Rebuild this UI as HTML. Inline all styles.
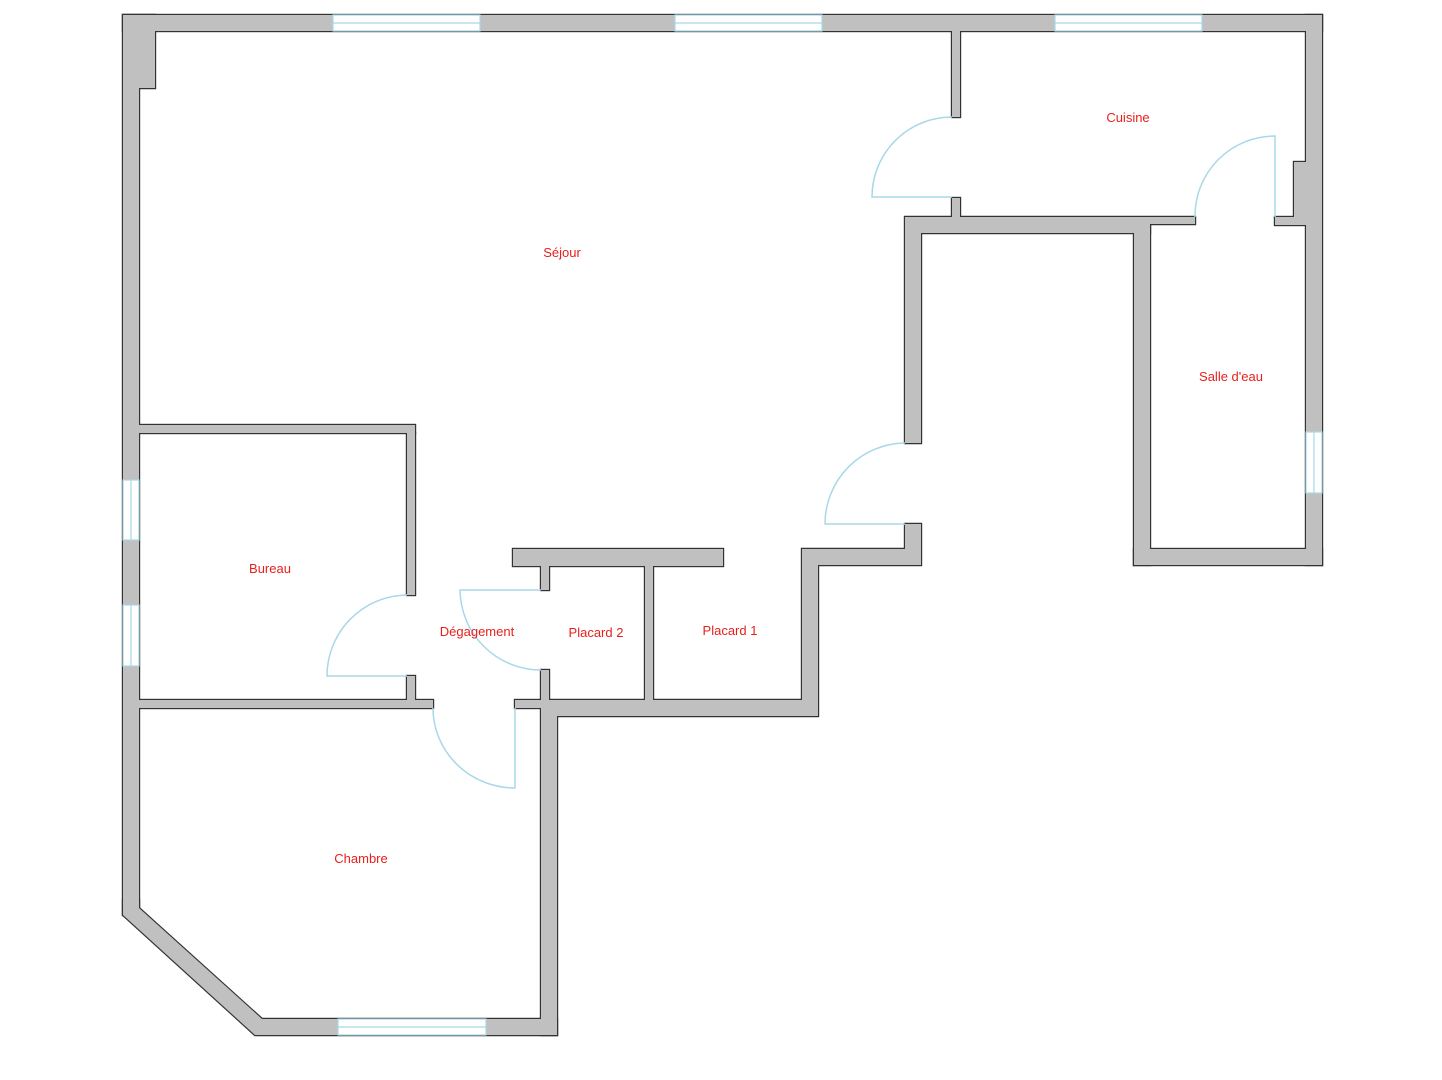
<!DOCTYPE html>
<html><head><meta charset="utf-8"><style>
html,body{margin:0;padding:0;background:#fff;}
svg{display:block}
text{font-family:"Liberation Sans",Arial,sans-serif;font-size:13px;fill:#e8201c;text-anchor:middle}
</style></head><body>
<svg width="1442" height="1080" viewBox="0 0 1442 1080" xmlns="http://www.w3.org/2000/svg">
<defs>
<g id="walls">
<rect x="123" y="15" width="1199" height="16"/>
<polygon points="123,15 155,15 155,88 139,88 139,915 123,915"/>
<polygon points="123,900 139,900 139,908 262,1019 557,1019 557,1035 255,1035 123,915"/>
<rect x="1306" y="15" width="16" height="550"/>
<rect x="1294" y="162" width="12" height="55"/>
<rect x="1275" y="217" width="31" height="8"/>
<rect x="952" y="31" width="8" height="86"/>
<rect x="952" y="198" width="8" height="19"/>
<polygon points="905,217 1195,217 1195,224 1150,224 1150,233 921,233 921,443 905,443"/>
<rect x="1134" y="224" width="16" height="341"/>
<rect x="1134" y="549" width="188" height="16"/>
<polygon points="905,524 921,524 921,565 818,565 818,716 557,716 557,1035 541,1035 541,700 802,700 802,549 905,549"/>
<rect x="513" y="549" width="210" height="17"/>
<rect x="541" y="566" width="8" height="24"/>
<rect x="541" y="670" width="8" height="30"/>
<rect x="645" y="566" width="8" height="134"/>
<rect x="139" y="425" width="276" height="8"/>
<rect x="407" y="433" width="8" height="162"/>
<rect x="407" y="676" width="8" height="24"/>
<rect x="139" y="700" width="294" height="8"/>
<rect x="515" y="700" width="26" height="8"/>
</g>
</defs>
<use href="#walls" fill="#c0c0c0" stroke="#333" stroke-width="2.4"/>
<use href="#walls" fill="#c0c0c0" stroke="none"/>
<g fill="#fff" stroke="#a8d8e8" stroke-width="1.2">
<rect x="333" y="15" width="147" height="16"/><line x1="333" y1="23" x2="480" y2="23"/>
<rect x="675" y="15" width="147" height="16"/><line x1="675" y1="23" x2="822" y2="23"/>
<rect x="1055" y="15" width="147" height="16"/><line x1="1055" y1="23" x2="1202" y2="23"/>
<rect x="338" y="1019" width="148" height="16"/><line x1="338" y1="1027" x2="486" y2="1027"/>
<rect x="123" y="480" width="16" height="60"/><line x1="131" y1="480" x2="131" y2="540"/>
<rect x="123" y="605" width="16" height="61"/><line x1="131" y1="605" x2="131" y2="666"/>
<rect x="1306" y="432" width="16" height="61"/><line x1="1314" y1="432" x2="1314" y2="493"/>
</g>
<g fill="none" stroke="#a8d8e8" stroke-width="1.5">
<path d="M952,117 A80,80 0 0 0 872,197 L952,197"/>
<path d="M1195,217 A80,80 0 0 1 1275,136 L1275,217"/>
<path d="M905,443 A81,81 0 0 0 825,524 L905,524"/>
<path d="M407,595 A81,81 0 0 0 327,676 L407,676"/>
<path d="M541,670 A81,81 0 0 1 460,590 L541,590"/>
<path d="M433,708 A82,80 0 0 0 515,788 L515,708"/>
</g>
<text x="1128" y="122">Cuisine</text>
<text x="562" y="257">Séjour</text>
<text x="1231" y="381">Salle d'eau</text>
<text x="270" y="573">Bureau</text>
<text x="477" y="636">Dégagement</text>
<text x="596" y="637">Placard 2</text>
<text x="730" y="635">Placard 1</text>
<text x="361" y="863">Chambre</text>
</svg>
</body></html>
